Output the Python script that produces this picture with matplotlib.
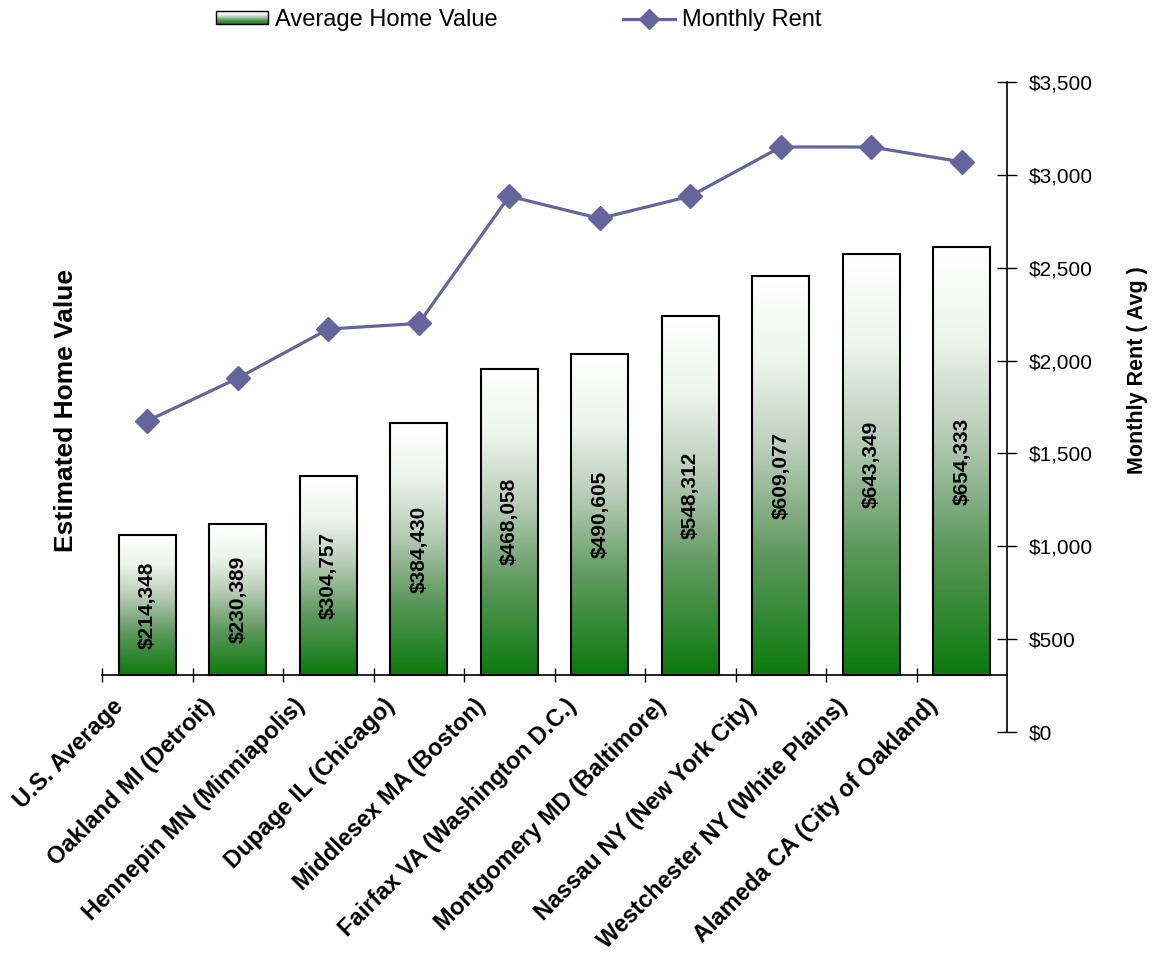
import numpy as np
import matplotlib
matplotlib.use('Agg')
import matplotlib.pyplot as plt
from matplotlib.colors import LinearSegmentedColormap
from matplotlib.patches import Rectangle
from matplotlib.lines import Line2D
from matplotlib.legend_handler import HandlerBase
from matplotlib.transforms import ScaledTranslation
from matplotlib.ticker import FuncFormatter

plt.rcParams['font.family'] = ['Liberation Sans', 'DejaVu Sans']

counties = ['U.S. Average', 'Oakland MI (Detroit)', 'Hennepin MN (Minniapolis)',
            'Dupage IL (Chicago)', 'Middlesex MA (Boston)', 'Fairfax VA (Washington D.C.)',
            'Montgomery MD (Baltimore)', 'Nassau NY (New York City)',
            'Westchester NY (White Plains)', 'Alameda CA (City of Oakland)']
home_value = [214348, 230389, 304757, 384430, 468058, 490605, 548312, 609077, 643349, 654333]
rent = [1675, 1905, 2170, 2200, 2885, 2765, 2885, 3150, 3150, 3070]

green = LinearSegmentedColormap.from_list(
    'wg', [(0.0, '#0c7a0c'), (0.3, '#5d985d'), (0.55, '#b5cbb5'),
           (0.78, '#eef3ee'), (1.0, '#ffffff')])
rent_color = '#65659d'


class GradientHandler(HandlerBase):
    def create_artists(self, legend, orig_handle, xdescent, ydescent,
                       width, height, fontsize, trans):
        arts = []
        n = 20
        for i in range(n):
            r = Rectangle((-xdescent, -ydescent + height * i / n), width, height / n + 0.3,
                          facecolor=green(i / (n - 1)), edgecolor='none', transform=trans)
            arts.append(r)
        arts.append(Rectangle((-xdescent, -ydescent), width, height, facecolor='none',
                              edgecolor='black', lw=1.0, transform=trans))
        return arts


fig = plt.figure(figsize=(11.53, 9.59), dpi=100)
ax = fig.add_axes([102 / 1153, 1 - 732 / 959, 905 / 1153, 650 / 959])
x = np.arange(len(counties))
w = 0.63

for xi, v in zip(x, home_value):
    grad = np.linspace(1, 0, 256).reshape(-1, 1)
    ax.imshow(grad, extent=[xi - w / 2, xi + w / 2, 0, v], aspect='auto',
              cmap=green, vmin=0, vmax=1, zorder=2, interpolation='bilinear')
bars = ax.bar(x, home_value, width=w, facecolor='none', edgecolor='black',
              linewidth=1.5, zorder=3)
for xi, v in zip(x, home_value):
    ax.text(xi, v / 2, f'${v:,}', rotation=90, ha='center', va='center',
            fontsize=15, fontweight='bold', zorder=4)

ax.set_xlim(-0.5, 9.5)
ax.set_ylim(-87000, 906000)
ax.spines['top'].set_visible(False)
ax.spines['left'].set_visible(False)
ax.spines['right'].set_visible(False)
ax.spines['bottom'].set_position(('data', 0))
ax.spines['bottom'].set_linewidth(1.2)
ax.set_yticks([])
ax.set_xticks(x)
ax.set_xticks(np.arange(-0.5, 9.5, 1), minor=True)
ax.tick_params(axis='x', which='major', length=0, pad=14)
ax.tick_params(axis='x', which='minor', direction='inout', length=9.5, width=1)
ax.set_xticklabels(counties, rotation=45, ha='right', fontsize=17, fontweight='bold')
off = ScaledTranslation(-0.19, 0, fig.dpi_scale_trans)
for lab in ax.get_xticklabels():
    lab.set_transform(lab.get_transform() + off)
ax.set_ylabel('Estimated Home Value', fontsize=19, fontweight='bold')
ax.yaxis.set_label_coords((78 - 102) / 905, (732 - 410) / 650)

ax2 = ax.twinx()
ax2.plot(x, rent, color=rent_color, lw=2.3, marker='D', markersize=12, zorder=5)
ax2.set_ylim(0, 3500)
ax2.set_yticks(np.arange(0, 3501, 500))
ax2.yaxis.set_major_formatter(FuncFormatter(lambda v, p: f'${v:,.0f}'))
ax2.tick_params(axis='y', direction='inout', length=13.7, width=1, labelsize=15, pad=9)
for s in ['top', 'left', 'bottom']:
    ax2.spines[s].set_visible(False)
ax2.spines['right'].set_linewidth(1.2)
ax2.set_ylabel('Monthly Rent ( Avg )', fontsize=15.5, fontweight='bold')
ax2.yaxis.set_label_coords((1127 - 102) / 905, (732 - 370) / 650)

handles = [Rectangle((0, 0), 1, 1),
           Line2D([], [], color=rent_color, lw=2.3, marker='D', markersize=10)]
fig.legend(handles, ['Average Home Value', 'Monthly Rent'],
           handler_map={Rectangle: GradientHandler()},
           loc='center', bbox_to_anchor=(0.4497, 0.979), ncol=2, frameon=False,
           fontsize=17, handlelength=2.2, handleheight=0.5, handletextpad=0.3,
           columnspacing=5.3)

fig.savefig('out.png', dpi=100)
